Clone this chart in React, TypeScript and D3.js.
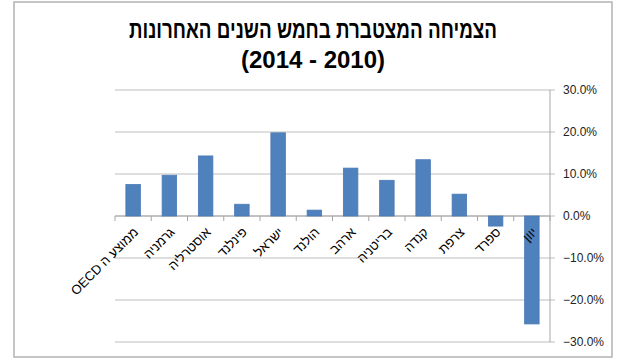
import React from "react";
import * as d3 from "d3";

const categories: string[] = [
  "ממוצע ה OECD",
  "גרמניה",
  "אוסטרליה",
  "פינלנד",
  "ישראל",
  "הולנד",
  "ארהב",
  "בריטניה",
  "קנדה",
  "צרפת",
  "ספרד",
  "יוון",
];
const values: number[] = [7.5, 9.7, 14.3, 2.8, 19.8, 1.4, 11.4, 8.5, 13.4, 5.2, -2.4, -25.7];
const yTicks: number[] = [30, 20, 10, 0, -10, -20, -30];
const titleLines: string[] = ["הצמיחה המצטברת בחמש השנים האחרונות", "(2014 - 2010)"];

export default function App() {
  const W = 640;
  const H = 360;
  const left = 115;
  const right = 550;
  const top = 90;
  const bottom = 342;

  const x = d3.scaleBand<string>().domain(categories).range([left, right]).paddingInner(0.6).paddingOuter(0.3);
  const y = d3.scaleLinear().domain([-30, 30]).range([bottom, top]);
  const step = x.step();
  const zeroY = y(0);
  const font = "'Liberation Sans', Arial, sans-serif";

  return (
    <svg
      width={W}
      height={H}
      style={{ position: "absolute", left: 0, top: 0, background: "#fff" }}
      fontFamily={font}
    >
      <rect x={14} y={2} width={598} height={355} fill="#fff" stroke="#b3b3b3" strokeWidth={1.5} />
      {titleLines.map((t, i) => (
        <text
          key={i}
          x={313}
          y={i === 0 ? 38 : 68}
          textAnchor="middle"
          fontSize={24}
          fontWeight="bold"
          fill="#000"
          {...(i === 0 ? { textLength: 368, lengthAdjust: "spacingAndGlyphs" } : {})}
        >
          {t}
        </text>
      ))}
      {yTicks.map((t) => (
        <g key={t}>
          <line x1={left} x2={right + 5} y1={y(t)} y2={y(t)} stroke="#bdbdbd" strokeWidth={1} />
          <text x={563} y={y(t) + 4} fontSize={12} fill="#222">
            {d3.format(".1f")(t) + "%"}
          </text>
        </g>
      ))}
      <line x1={right} x2={right} y1={top} y2={bottom} stroke="#a6a6a6" strokeWidth={1} />
      <line x1={left} x2={right} y1={zeroY} y2={zeroY} stroke="#a6a6a6" strokeWidth={1} />
      {d3.range(categories.length + 1).map((i) => (
        <line
          key={i}
          x1={left + i * step}
          x2={left + i * step}
          y1={zeroY}
          y2={zeroY + 5}
          stroke="#a6a6a6"
          strokeWidth={1}
        />
      ))}
      {categories.map((c, i) => {
        const v = values[i];
        const y0 = Math.min(y(v), zeroY);
        const h = Math.abs(y(v) - zeroY);
        return (
          <rect
            key={c}
            x={x(c)}
            y={y0}
            width={x.bandwidth()}
            height={h}
            fill="#4f81bd"
            stroke="#4a7ab5"
            strokeWidth={0.8}
          />
        );
      })}
      {categories.map((c) => {
        const cx = (x(c) as number) + x.bandwidth() / 2;
        return (
          <text
            key={c}
            transform={`translate(${cx + 6},${zeroY + 17}) rotate(-45)`}
            direction="rtl"
            textAnchor="start"
            fontSize={13}
            fill="#000"
            style={{ direction: "rtl", unicodeBidi: "embed" }}
          >
            {c}
          </text>
        );
      })}
    </svg>
  );
}
